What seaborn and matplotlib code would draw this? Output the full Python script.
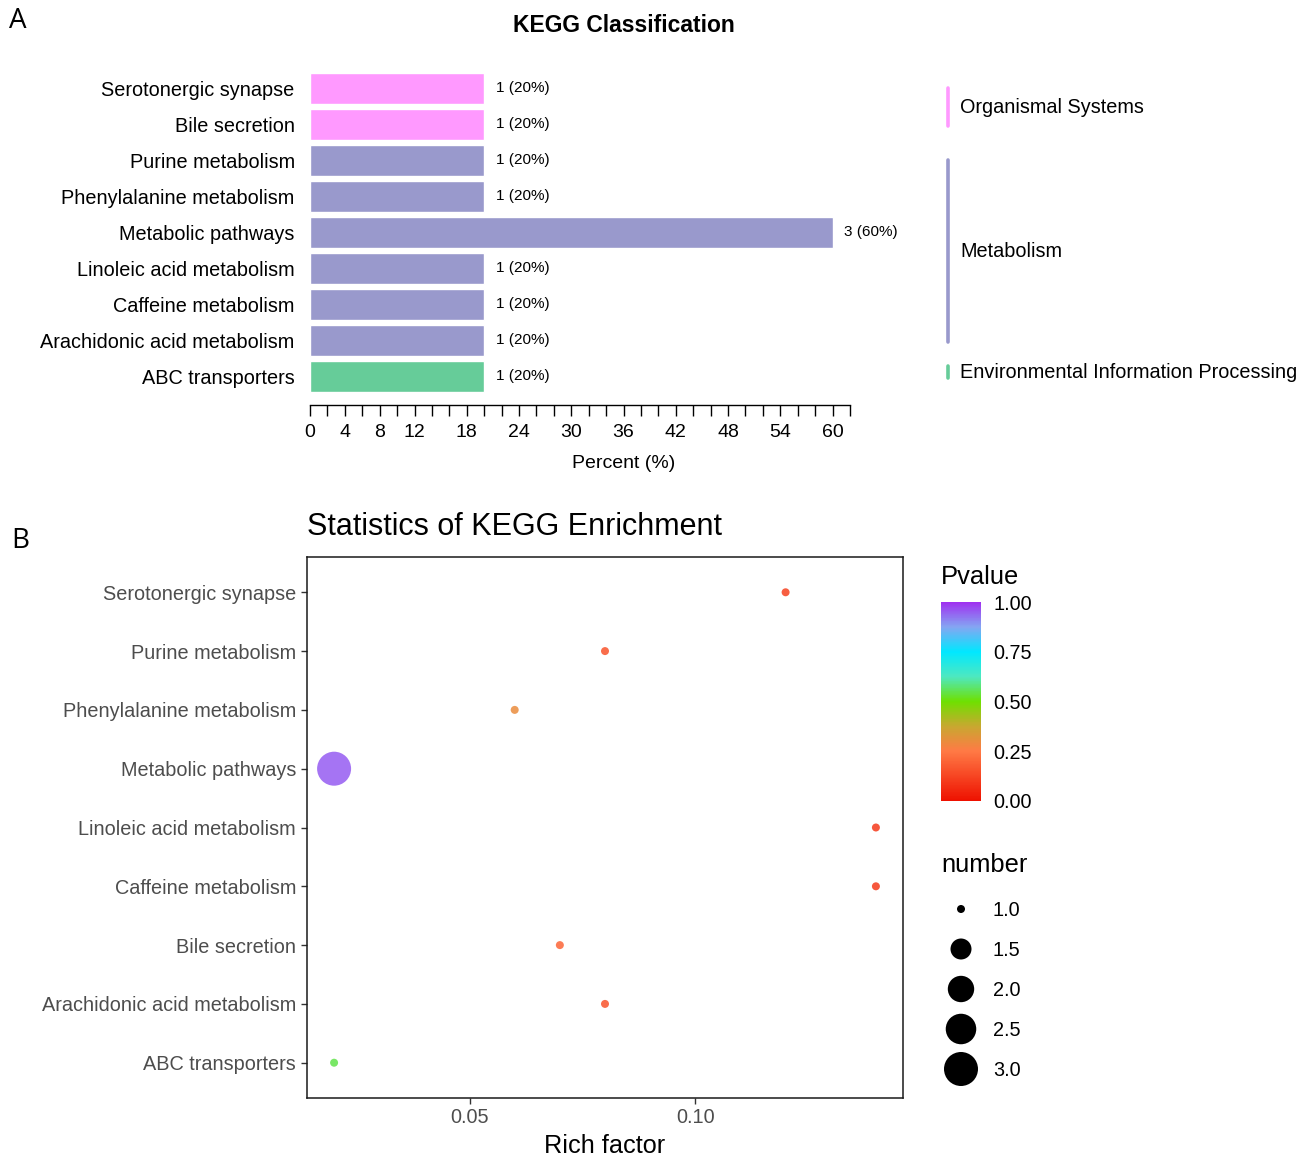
import numpy as np
import pandas as pd
import matplotlib
matplotlib.use("Agg")
import matplotlib.pyplot as plt
import seaborn as sns
from matplotlib.colors import LinearSegmentedColormap, Normalize
from matplotlib.cm import ScalarMappable
from matplotlib.transforms import blended_transform_factory

# ---------------- data ----------------
# Panel A: KEGG classification (top to bottom)
class_pathways = ["Serotonergic synapse", "Bile secretion", "Purine metabolism",
                  "Phenylalanine metabolism", "Metabolic pathways",
                  "Linoleic acid metabolism", "Caffeine metabolism",
                  "Arachidonic acid metabolism", "ABC transporters"]
class_counts = [1, 1, 1, 1, 3, 1, 1, 1, 1]
class_groups = ["Organismal Systems", "Organismal Systems", "Metabolism",
                "Metabolism", "Metabolism", "Metabolism", "Metabolism",
                "Metabolism", "Environmental Information Processing"]
total_genes = 5

# Panel B: KEGG enrichment (top to bottom)
enrich_pathways = ["Serotonergic synapse", "Purine metabolism",
                   "Phenylalanine metabolism", "Metabolic pathways",
                   "Linoleic acid metabolism", "Caffeine metabolism",
                   "Bile secretion", "Arachidonic acid metabolism",
                   "ABC transporters"]
rich_factor = [0.12, 0.08, 0.06, 0.02, 0.14, 0.14, 0.07, 0.08, 0.02]
pvalues = [0.12, 0.16, 0.30, 0.95, 0.10, 0.10, 0.20, 0.16, 0.55]
numbers = [1, 1, 1, 3, 1, 1, 1, 1, 1]
size_legend_values = [1.0, 1.5, 2.0, 2.5, 3.0]
pvalue_ticks = [0.0, 0.25, 0.5, 0.75, 1.0]

# ---------------- styling ----------------
group_colors = {"Organismal Systems": "#ff99ff",
                "Metabolism": "#9999cc",
                "Environmental Information Processing": "#66cc99"}
pval_cmap = LinearSegmentedColormap.from_list(
    "pval", [(0.0, "#ee1100"), (0.25, "#ff7a45"), (0.375, "#c8a830"),
             (0.5, "#6fe000"), (0.625, "#4ee8c0"), (0.75, "#00e8ff"),
             (0.875, "#84a6f2"), (1.0, "#a030f0")])

sns.set_theme(style="white")
plt.rcParams["font.family"] = ["Liberation Sans", "DejaVu Sans"]

W, H = 1309, 1157
fig = plt.figure(figsize=(W / 100, H / 100), dpi=100)


def px_rect(left, top, right, bottom):
    return [left / W, 1 - bottom / H, (right - left) / W, (bottom - top) / H]


# ---------------- panel A ----------------
df_a = pd.DataFrame({"pathway": class_pathways, "count": class_counts,
                     "group": class_groups})
df_a["percent"] = df_a["count"] / total_genes * 100

ax_a = fig.add_axes(px_rect(310, 66.6, 850, 405))
sns.barplot(data=df_a, x="percent", y="pathway", hue="group",
            palette=group_colors, order=class_pathways, dodge=False,
            width=0.86, saturation=1, legend=False, ax=ax_a)
ax_a.set_xlim(0, 62)
ax_a.set_ylim(len(class_pathways) - 1 + 0.8, -0.6)
for s in ["top", "right", "left"]:
    ax_a.spines[s].set_visible(False)
ax_a.spines["bottom"].set_color("black")
ax_a.spines["bottom"].set_linewidth(1.0)
xt = np.arange(0, 63, 2)
label_at = {0, 4, 8, 12, 18, 24, 30, 36, 42, 48, 54, 60}
ax_a.set_xticks(xt)
ax_a.set_xticklabels([str(v) if v in label_at else "" for v in xt])
ax_a.tick_params(axis="x", bottom=True, direction="out", length=8,
                 width=1.0, color="black", labelsize=14, pad=6)
ax_a.tick_params(axis="y", left=False, labelsize=14.3, pad=5)
for lab in ax_a.get_yticklabels():
    lab.set_color("black")
for lab in ax_a.get_xticklabels():
    lab.set_color("black")
ax_a.set_xlabel("Percent (%)", fontsize=14, color="black")
ax_a.xaxis.set_label_coords((624 - 310) / 540, -(463 - 405) / 338.4)
ax_a.xaxis.label.set_va("center")
ax_a.set_ylabel("")

for i, (c, p) in enumerate(zip(df_a["count"], df_a["percent"])):
    ax_a.text(p + 1.3, i, f"{c} ({p:.0f}%)", va="center", ha="left",
              fontsize=11, color="black")

fig.text(624 / W, 1 - 26 / H, "KEGG Classification", ha="center",
         va="center", fontsize=16.5, fontweight="bold", color="black")

# group brackets on the right
trans = blended_transform_factory(fig.transFigure, ax_a.transData)
for grp, col in group_colors.items():
    idx = [i for i, g in enumerate(class_groups) if g == grp]
    first, last = min(idx), max(idx)
    y0 = first - (0.28 if first == last else 0.0)
    y1 = last + 0.05
    ax_a.plot([948 / W, 948 / W], [y0, y1], transform=trans, color=col,
              lw=2.6, solid_capstyle="round", clip_on=False)
    ax_a.text(960 / W, (y0 + y1) / 2, grp, transform=trans, va="center",
              ha="left", fontsize=14.3, color="black", clip_on=False)

# ---------------- panel B ----------------
df_b = pd.DataFrame({"pathway": enrich_pathways, "rich": rich_factor,
                     "pvalue": pvalues, "number": numbers})

n_min, n_max = min(size_legend_values), max(size_legend_values)


def marker_area(n):
    # area scale: diameter grows with sqrt of the rescaled value
    d_px = 8 + 26 * np.sqrt((n - n_min) / (n_max - n_min))
    return (d_px * 0.72) ** 2


size_map = {v: marker_area(v) for v in sorted(set(numbers))}

ax_b = fig.add_axes(px_rect(307, 557, 903, 1098))
sns.scatterplot(data=df_b, x="rich", y="pathway", hue="pvalue",
                palette=pval_cmap, hue_norm=(0, 1), size="number",
                sizes=size_map, legend=False, edgecolor="none", alpha=0.85,
                ax=ax_b, zorder=3)
ax_b.set_xlim(0.014, 0.146)
ax_b.set_ylim(len(enrich_pathways) - 1 + 0.6, -0.6)
ax_b.set_xticks([0.05, 0.10])
ax_b.set_xticklabels(["0.05", "0.10"])
for s in ax_b.spines.values():
    s.set_visible(True)
    s.set_color("#1a1a1a")
    s.set_linewidth(1.1)
ax_b.tick_params(axis="both", direction="out", length=4, width=1.0,
                 color="#333333", labelcolor="#4d4d4d", labelsize=14.3,
                 left=True, bottom=True)
ax_b.tick_params(axis="y", pad=4)
ax_b.tick_params(axis="x", pad=3)
ax_b.set_xlabel("Rich factor", fontsize=18.2, color="black", labelpad=5)
ax_b.set_ylabel("")
fig.text(307 / W, 1 - 527 / H, "Statistics of KEGG Enrichment", ha="left",
         va="center", fontsize=22, color="black")

# colour bar for p-values
cax = fig.add_axes(px_rect(941, 602, 981, 801))
cb = fig.colorbar(ScalarMappable(norm=Normalize(0, 1), cmap=pval_cmap),
                  cax=cax, ticks=pvalue_ticks)
cb.outline.set_visible(False)
cb.minorticks_off()
cax.set_yticklabels([f"{t:.2f}" for t in pvalue_ticks])
cax.tick_params(axis="y", which="major", direction="in", length=5, width=1,
                color="white", left=True, right=True, labelleft=False,
                labelright=True, labelcolor="black", labelsize=14.3, pad=9)
fig.text(941 / W, 1 - 577 / H, "Pvalue", ha="left", va="center",
         fontsize=18.4, color="black")

# size legend
fig.text(941 / W, 1 - 865 / H, "number", ha="left", va="center",
         fontsize=18.4, color="black")
sax = fig.add_axes(px_rect(930, 885, 1060, 1095))
sax.set_xlim(930, 1060)
sax.set_ylim(1095, 885)
sax.axis("off")
leg_y = [909, 949, 989, 1029, 1069]
sax.scatter([961] * len(size_legend_values), leg_y,
            s=[marker_area(v) for v in size_legend_values], color="black",
            edgecolor="none", clip_on=False)
for v, y in zip(size_legend_values, leg_y):
    sax.text(993, y + 1, f"{v:.1f}", ha="left", va="center", fontsize=14.3,
             color="black")

# panel letters
fig.text(18 / W, 1 - 21 / H, "A", ha="center", va="center", fontsize=20,
         family=["Open Sans", "DejaVu Sans"], color="black")
fig.text(20 / W, 1 - 541 / H, "B", ha="center", va="center", fontsize=20,
         family=["Open Sans", "DejaVu Sans"], color="black")

fig.savefig("out.png", dpi=100, facecolor="white")
